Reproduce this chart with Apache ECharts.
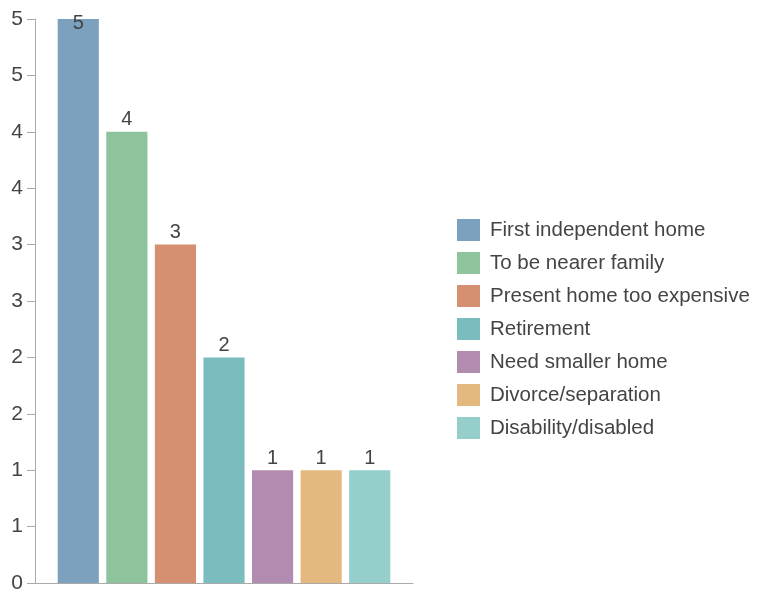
<!DOCTYPE html>
<html>
<head>
<meta charset="utf-8">
<script src="https://cdn.jsdelivr.net/npm/echarts@6/dist/echarts.min.js"></script>
<style>
  html, body { margin: 0; padding: 0; background: #fff; }
  #chart { width: 757px; height: 594px; }
</style>
</head>
<body>
<div id="chart"></div>
<script>
// Reasons for moving, count of responses per reason
const reasons = [
  'First independent home',
  'To be nearer family',
  'Present home too expensive',
  'Retirement',
  'Need smaller home',
  'Divorce/separation',
  'Disability/disabled'
];
const counts = [5, 4, 3, 2, 1, 1, 1];
const colors = ['#7ba1be', '#8dc49b', '#d49070', '#7bbdbe', '#b28cb0', '#e4b97f', '#95cfcc'];
const yMin = 0;
const yMax = 5;
const yStep = 0.5;

const FONT = 'Liberation Sans, Arial, Helvetica, sans-serif';

const chart = echarts.init(document.getElementById('chart'));

const series = reasons.map((name, i) => ({
  name: name,
  type: 'bar',
  data: [counts[i]],
  barGap: '18%',
  barCategoryGap: '12%',
  itemStyle: { color: colors[i] },
  label: {
    show: true,
    position: 'top',
    distance: 2,
    // the tallest bar's label sits just inside the top of the plot
    offset: counts[i] >= yMax ? [0, 16] : [0, 0],
    fontFamily: FONT,
    fontSize: 20,
    color: '#444'
  }
}));

chart.setOption({
  animation: false,
  color: colors,
  grid: { left: 35, right: 344, top: 19, bottom: 11, containLabel: false },
  legend: {
    orient: 'vertical',
    left: 457,
    top: 219,
    padding: 0,
    itemWidth: 23,
    itemHeight: 22,
    itemGap: 11,
    icon: 'rect',
    textStyle: { fontFamily: FONT, fontSize: 20.5, color: '#444', padding: [0, 0, 0, 5] },
    data: reasons
  },
  xAxis: {
    type: 'category',
    data: [''],
    axisLine: { show: true, lineStyle: { color: '#aaa', width: 1 } },
    axisTick: { show: false },
    axisLabel: { show: false }
  },
  yAxis: {
    type: 'value',
    min: yMin,
    max: yMax,
    interval: yStep,
    axisLine: { show: true, lineStyle: { color: '#aaa', width: 1 } },
    axisTick: { show: true, length: 8, lineStyle: { color: '#aaa' } },
    splitLine: { show: false },
    axisLabel: {
      margin: 12,
      fontFamily: FONT,
      fontSize: 21,
      color: '#444',
      formatter: v => String(Math.round(v))
    }
  },
  series: series
});
</script>
</body>
</html>
